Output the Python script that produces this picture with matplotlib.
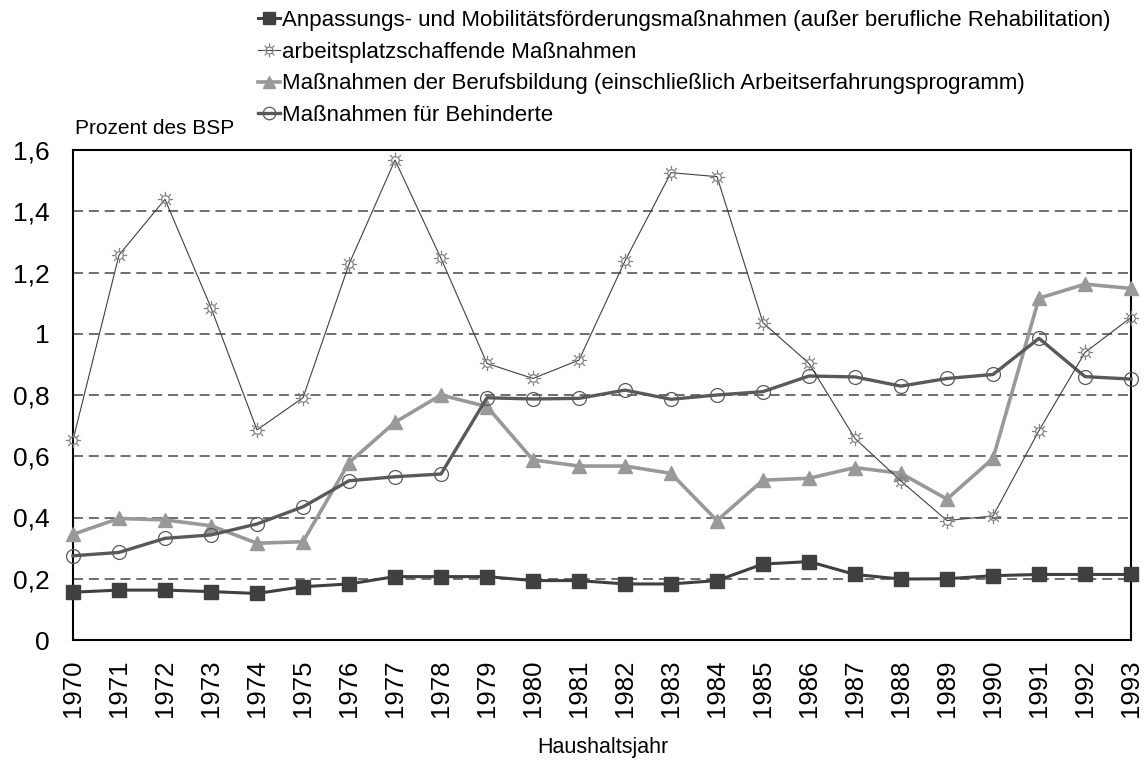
import numpy as np
import matplotlib
matplotlib.use('Agg')
import matplotlib.pyplot as plt
from matplotlib.path import Path
from matplotlib.transforms import Affine2D

plt.rcParams['font.family'] = ['Liberation Sans', 'DejaVu Sans']

years = list(range(1970, 1994))
anpassung = [0.156, 0.163, 0.163, 0.158, 0.152, 0.174, 0.183, 0.207, 0.207, 0.207,
             0.194, 0.194, 0.183, 0.183, 0.194, 0.248, 0.256, 0.214, 0.199, 0.200,
             0.210, 0.214, 0.214, 0.214]
arbeitsplatz = [0.653, 1.257, 1.439, 1.085, 0.686, 0.791, 1.227, 1.567, 1.246, 0.903,
                0.854, 0.914, 1.238, 1.526, 1.513, 1.036, 0.903, 0.658, 0.519, 0.390,
                0.405, 0.684, 0.939, 1.053]
berufsbildung = [0.345, 0.397, 0.392, 0.373, 0.316, 0.321, 0.579, 0.711, 0.800, 0.762,
                 0.588, 0.568, 0.568, 0.544, 0.390, 0.522, 0.528, 0.563, 0.544, 0.460,
                 0.593, 1.116, 1.162, 1.148]
behinderte = [0.275, 0.286, 0.332, 0.343, 0.379, 0.435, 0.520, 0.533, 0.542, 0.791,
              0.787, 0.789, 0.816, 0.786, 0.800, 0.811, 0.862, 0.859, 0.829, 0.854,
              0.867, 0.985, 0.860, 0.852]

labels = ['Anpassungs- und Mobilitätsförderungsmaßnahmen (außer berufliche Rehabilitation)',
          'arbeitsplatzschaffende Maßnahmen',
          'Maßnahmen der Berufsbildung (einschließlich Arbeitserfahrungsprogramm)',
          'Maßnahmen für Behinderte']
y_ticks = [0, 0.2, 0.4, 0.6, 0.8, 1.0, 1.2, 1.4, 1.6]
y_ticklabels = ['0', '0,2', '0,4', '0,6', '0,8', '1', '1,2', '1,4', '1,6']

# sun-like marker: small circle with eight rays
ray_verts, ray_codes = [], []
for a in np.arange(8) * np.pi / 4:
    ray_verts += [(0.6 * np.cos(a), 0.6 * np.sin(a)), (np.cos(a), np.sin(a))]
    ray_codes += [Path.MOVETO, Path.LINETO]
sun = Path.make_compound_path(Path.unit_circle().transformed(Affine2D().scale(0.5)),
                              Path(ray_verts, ray_codes))

fig = plt.figure(figsize=(11.44, 7.6), dpi=100)
ax = fig.add_axes([73 / 1144, 1 - 640 / 760, (1131 - 73) / 1144, 490 / 760])

x = np.arange(len(years))
ax.plot(x, anpassung, color='#404040', lw=2.2, marker='s', ms=9.5,
        label=labels[0], clip_on=False, zorder=5)
ax.plot(x, arbeitsplatz, color='#404040', lw=0.8, marker=sun, ms=11,
        mfc='none', mec='#7f7f7f', mew=0.9, label=labels[1], clip_on=False, zorder=4)
ax.plot(x, berufsbildung, color='#999999', lw=2.6, marker='^', ms=9.5,
        label=labels[2], clip_on=False, zorder=3)
ax.plot(x, behinderte, color='#595959', lw=2.4, marker='o', ms=10,
        mfc='none', mec='#595959', mew=0.9, label=labels[3], clip_on=False, zorder=3)

ax.set_xlim(0, len(years) - 1)
ax.set_ylim(0, 1.6)
ax.set_yticks(y_ticks)
ax.set_yticklabels(y_ticklabels, fontsize=19)
ax.set_xticks(x)
ax.set_xticklabels([str(y) for y in years], rotation=90, fontsize=18.5)
ax.tick_params(length=0)
ax.tick_params(axis='y', pad=17)
ax.tick_params(axis='x', pad=14)

for v in y_ticks[1:-1]:
    ax.axhline(v, color='#555555', lw=1.2, ls=(0, (6, 3.5)), zorder=1)

for s in ax.spines.values():
    s.set_linewidth(1.5)
    s.set_color('black')

fig.text(75 / 1144, 1 - 128 / 760, 'Prozent des BSP', fontsize=15, va='center', ha='left')
fig.text(603 / 1144, 1 - 748 / 760, 'Haushaltsjahr', fontsize=15.5, va='center', ha='center')

fig.legend(loc='upper left', bbox_to_anchor=(258 / 1144, 1 - 10 / 760), frameon=False,
           fontsize=16, handlelength=1.0, handletextpad=0.08, labelspacing=0.48,
           borderpad=0, borderaxespad=0, markerscale=0.9)

fig.savefig('out.png', dpi=100)
